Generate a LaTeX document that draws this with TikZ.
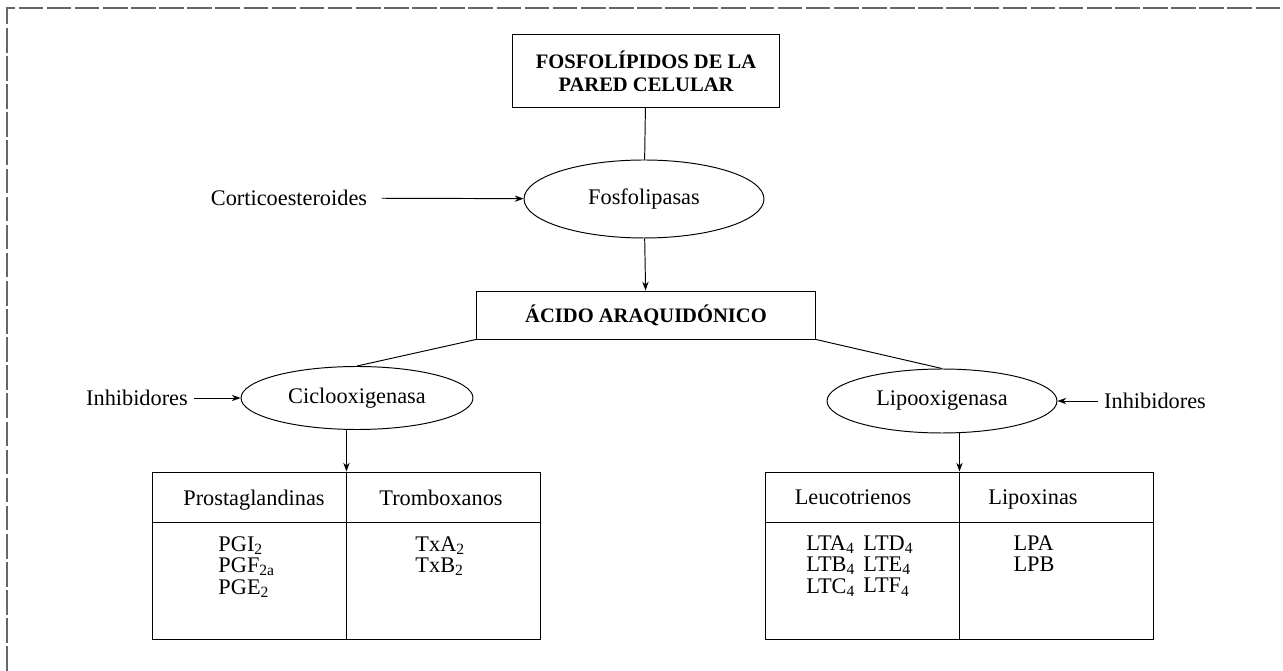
\documentclass[tikz,border=0pt]{standalone}
\usepackage{fontspec}
\setmainfont{Liberation Serif}
\usepackage{tikz}
\usetikzlibrary{arrows.meta,shapes.geometric,positioning}

\newcommand{\bodyfont}{\fontsize{12.7}{12.2}\selectfont}
\newcommand{\headfont}{\fontsize{11.7}{13.1}\selectfont\bfseries}

\begin{document}
\begin{tikzpicture}[x=0.02cm, y=-0.02cm, >={Stealth[length=5pt,width=3.6pt]}, line width=0.55pt]
  % Define styles
  \tikzstyle{title}=[rectangle, draw, align=center, inner sep=0pt, font=\headfont]
  \tikzstyle{enzyme}=[ellipse, draw, inner sep=0pt, font=\bodyfont]
  \tikzstyle{plain}=[inner xsep=3.5pt, font=\bodyfont]
  \tikzstyle{cell}=[rectangle, draw, minimum width=3.88cm, inner sep=0pt]
  \tikzstyle{head}=[anchor=base, inner sep=0pt, font=\bodyfont]
  \tikzstyle{items}=[anchor=north west, align=left, inner sep=0pt, font=\bodyfont]
  \tikzstyle{frame}=[draw=black!60, line width=0.8pt, dash pattern=on 14pt off 2pt]

  \useasboundingbox (0,0) rectangle (1283,671);
  \draw[frame] (7,671) -- (7,8) -- (1283,8);

  % Nodes
  \node[title, minimum width=5.34cm, minimum height=1.46cm] (fosfo) at (646,71) {FOSFOLÍPIDOS DE LA\\PARED CELULAR};
  \node[enzyme, minimum width=4.8cm, minimum height=1.56cm] (fosfolipasas) at (644,199) {Fosfolipasas};
  \node[plain, inner xsep=8pt] (cortico) at (289,198) {Corticoesteroides};
  \node[title, minimum width=6.78cm, minimum height=0.96cm] (acido) at (646,315) {ÁCIDO ARAQUIDÓNICO};

  \node[enzyme, minimum width=4.64cm, minimum height=1.26cm] (ciclo) at (357,398) {Ciclooxigenasa};
  \node[plain] (inhibL) at (137,398) {Inhibidores};
  \node[enzyme, minimum width=4.6cm, minimum height=1.28cm] (lipo) at (942,401) {Lipooxigenasa};
  \node[plain] (inhibR) at (1155,401) {Inhibidores};

  % Tables
  \node[cell, minimum height=1cm] (prost) at (249,497) {};
  \node[cell, minimum height=1cm, right=0pt of prost] (trombo) {};
  \node[cell, minimum height=2.34cm, below=0pt of prost] (prostbody) {};
  \node[cell, minimum height=2.34cm, below=0pt of trombo] (trombobody) {};
  \node[cell, minimum height=1cm] (leuco) at (862,497) {};
  \node[cell, minimum height=1cm, right=0pt of leuco] (lipox) {};
  \node[cell, minimum height=2.34cm, below=0pt of leuco] (leucobody) {};
  \node[cell, minimum height=2.34cm, below=0pt of lipox] (lipoxbody) {};

  \node[head] (prosttxt) at (254,505) {Prostaglandinas};
  \node[head] (trombotxt) at (441,505) {Tromboxanos};
  \node[head] (leucotxt) at (853,504) {Leucotrienos};
  \node[head] (lipoxtxt) at (1033,504) {Lipoxinas};

  \node[items] (pglist) at (218,536) {PGI\textsubscript{2}\\PGF\textsubscript{2a}\\PGE\textsubscript{2}};
  \node[items] (txlist) at (415,536) {TxA\textsubscript{2}\\TxB\textsubscript{2}};
  \node[items] (ltlistA) at (806,535) {LTA\textsubscript{4}\\LTB\textsubscript{4}\\LTC\textsubscript{4}};
  \node[items] (ltlistB) at (863,535) {LTD\textsubscript{4}\\LTE\textsubscript{4}\\LTF\textsubscript{4}};
  \node[items] (lplist) at (1013,535) {LPA\\LPB};

  % Edges
  \draw (fosfo) -- (fosfolipasas);
  \draw[->] (cortico) -- (fosfolipasas);
  \draw[->] (fosfolipasas) -- (acido);
  \draw (acido.south west) -- (ciclo.north);
  \draw (acido.south east) -- (lipo.north);
  \draw[->] (inhibL) -- (ciclo);
  \draw[->] (inhibR) -- (lipo);
  \draw[->] (ciclo.south -| prost.north east) -- (prost.north east);
  \draw[->] (lipo.south -| leuco.north east) -- (leuco.north east);
\end{tikzpicture}
\end{document}
